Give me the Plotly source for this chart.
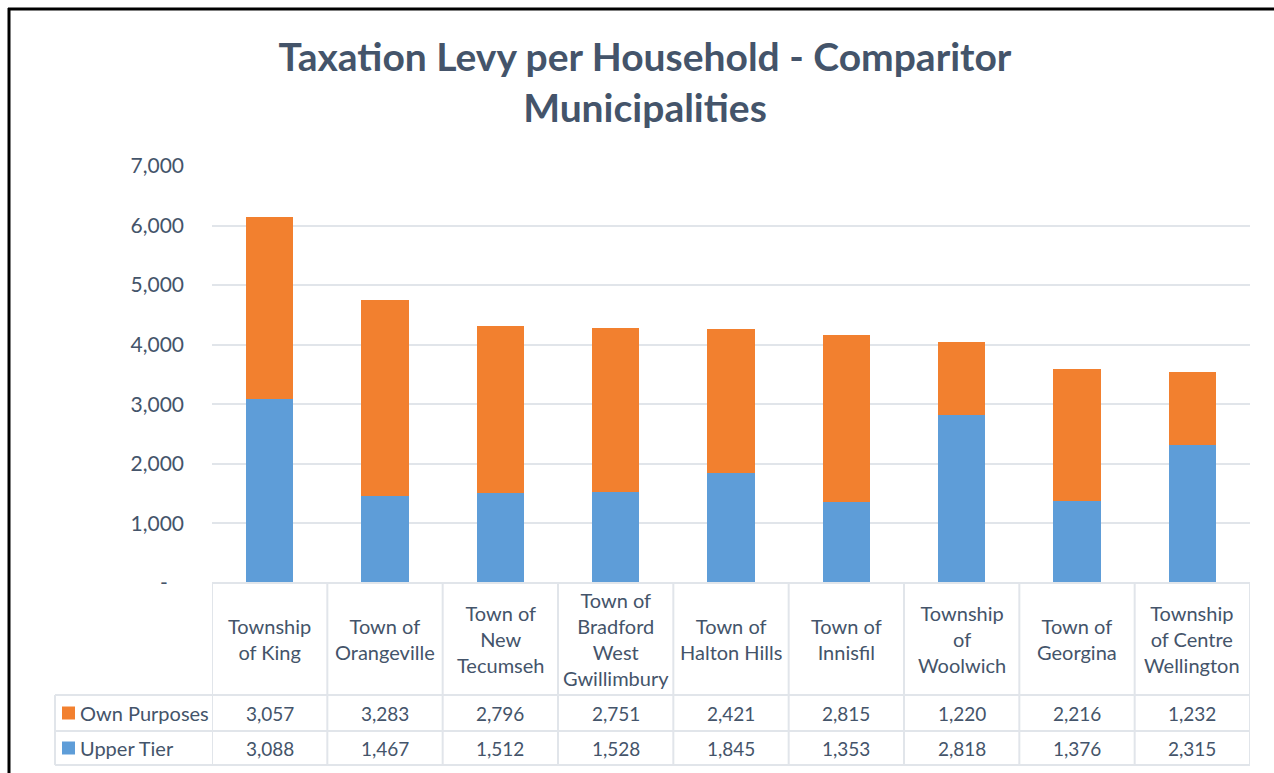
import plotly.graph_objects as go

categories = ["Township<br>of King", "Town of<br>Orangeville", "Town of<br>New<br>Tecumseh",
              "Town of<br>Bradford<br>West<br>Gwillimbury", "Town of<br>Halton Hills",
              "Town of<br>Innisfil", "Township<br>of<br>Woolwich", "Town of<br>Georgina",
              "Township<br>of Centre<br>Wellington"]
upper_tier = [3088, 1467, 1512, 1528, 1845, 1353, 2818, 1376, 2315]
own_purposes = [3057, 3283, 2796, 2751, 2421, 2815, 1220, 2216, 1232]
series_names = ["Own Purposes", "Upper Tier"]
y_ticks = [0, 1000, 2000, 3000, 4000, 5000, 6000, 7000]
y_ticklabels = ["-\u00a0\u00a0\u00a0", "1,000", "2,000", "3,000", "4,000", "5,000", "6,000", "7,000"]

ORANGE = "#F2802F"
BLUE = "#5E9DD8"
TXT = "#44546A"
LINE = "#E1E5EA"
FONT = "Lato"

idx = list(range(len(categories)))
fig = go.Figure()
fig.add_trace(go.Bar(x=idx, y=upper_tier, name=series_names[1], marker_color=BLUE,
                     marker_line_width=0, width=0.41))
fig.add_trace(go.Bar(x=idx, y=own_purposes, name=series_names[0], marker_color=ORANGE,
                     marker_line_width=0, width=0.41))

W, H = 1274, 773
L, R, T, B = 212, 24, 166, 190
pw, ph = W - L - R, H - T - B

def py(pix):
    return (H - B - pix) / ph

def px(pix):
    return (pix - L) / pw

shapes = []
ann = []
y_top = py(583)
y_h = py(695)
y_r1 = py(731)
y_r2 = py(765)
x_lab = px(55)

shapes.append(dict(type="line", xref="paper", yref="paper", x0=0, x1=1, y0=y_top, y1=y_top,
                   line=dict(color=LINE, width=2)))
for yy in (y_h, y_r1, y_r2):
    shapes.append(dict(type="line", xref="paper", yref="paper", x0=x_lab, x1=1, y0=yy, y1=yy,
                       line=dict(color=LINE, width=2)))
shapes.append(dict(type="line", xref="paper", yref="paper", x0=x_lab, x1=x_lab, y0=y_h, y1=y_r2,
                   line=dict(color=LINE, width=2)))
for i in range(len(categories) + 1):
    shapes.append(dict(type="line", xref="x", yref="paper", x0=i - 0.5, x1=i - 0.5, y0=y_top, y1=y_r2,
                       line=dict(color=LINE, width=2)))

lfont = dict(family=FONT, size=20, color=TXT)
nfont = dict(family=FONT, size=19, color=TXT)
for i, c in enumerate(categories):
    ann.append(dict(x=i, y=py(639), xref="x", yref="paper", text=c, showarrow=False,
                    font=lfont, xanchor="center", yanchor="middle", align="center"))
    ann.append(dict(x=i, y=py(713), xref="x", yref="paper", text=f"{own_purposes[i]:,}",
                    showarrow=False, font=nfont, xanchor="center", yanchor="middle"))
    ann.append(dict(x=i, y=py(748), xref="x", yref="paper", text=f"{upper_tier[i]:,}",
                    showarrow=False, font=nfont, xanchor="center", yanchor="middle"))

for name, col, yc in ((series_names[0], ORANGE, 713), (series_names[1], BLUE, 748)):
    shapes.append(dict(type="rect", xref="paper", yref="paper", x0=px(62), x1=px(75),
                       y0=py(yc + 6.5), y1=py(yc - 6.5), fillcolor=col, line=dict(width=0)))
    ann.append(dict(x=px(78), y=py(yc), xref="paper", yref="paper", text=name, showarrow=False,
                    font=lfont, xanchor="left", yanchor="middle"))

shapes.append(dict(type="line", xref="paper", yref="paper", x0=px(8), x1=px(W + 5), y0=py(9), y1=py(9),
                   line=dict(color="black", width=3)))
shapes.append(dict(type="line", xref="paper", yref="paper", x0=px(9), x1=px(9), y0=py(8), y1=py(H + 5),
                   line=dict(color="black", width=3)))

fig.update_layout(
    width=W, height=H,
    margin=dict(l=L, r=R, t=T, b=B),
    barmode="stack",
    showlegend=False,
    plot_bgcolor="white", paper_bgcolor="white",
    title=dict(text="<b>Taxation Levy per Household - Comparitor<br>Municipalities</b>",
               xref="container", yref="container",
               x=645 / W, xanchor="center", y=1 - 71 / H, yanchor="middle",
               font=dict(family=FONT, size=39, color=TXT)),
    xaxis=dict(range=[-0.5, len(categories) - 0.5], showticklabels=False, showgrid=False,
               zeroline=False, showline=False, fixedrange=True),
    yaxis=dict(range=[0, 7000], tickvals=y_ticks, ticktext=y_ticklabels, showgrid=True,
               gridcolor=LINE, gridwidth=2, zeroline=False, showline=False,
               tickfont=dict(family=FONT, size=21, color=TXT), ticklabelstandoff=27),
    shapes=shapes, annotations=ann,
)
fig.write_html("out.html", config={"displayModeBar": False},
               post_script="document.body.style.margin='0';document.body.style.overflow='hidden';")
